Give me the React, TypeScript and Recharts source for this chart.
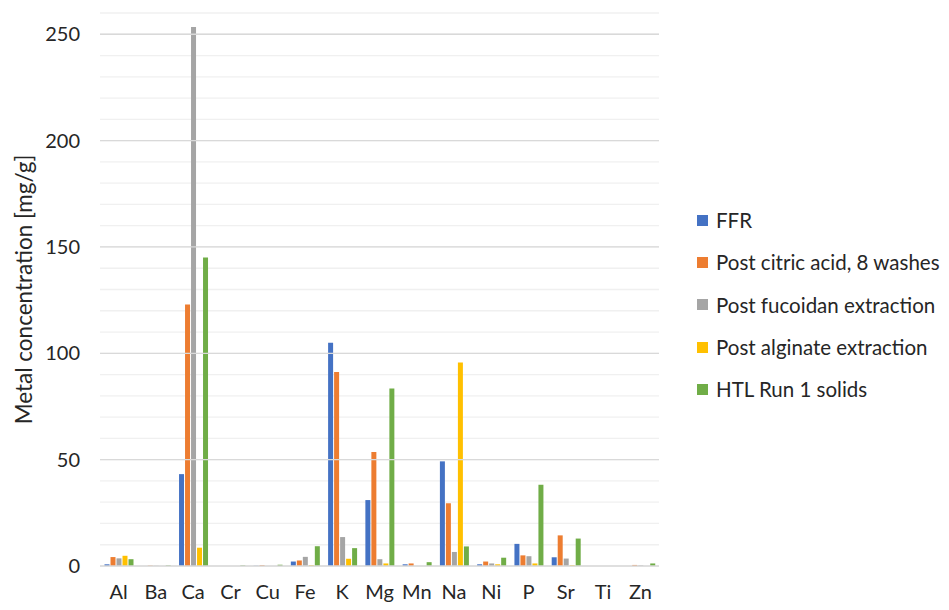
import { Bar, BarChart, CartesianGrid, ReferenceLine, XAxis, YAxis } from "recharts";

const elements = ["Al", "Ba", "Ca", "Cr", "Cu", "Fe", "K", "Mg", "Mn", "Na", "Ni", "P", "Sr", "Ti", "Zn"];

const ffr = [0.8, 0, 43.2, 0, 0.1, 2.1, 105, 31, 0.8, 49.2, 0.8, 10.4, 4.1, 0, 0];
const citric = [4.2, 0.2, 123, 0, 0.4, 2.6, 91.2, 53.6, 1.2, 29.5, 2.1, 5, 14.4, 0, 0.5];
const fucoidan = [3.6, 0.1, 253.4, 0, 0, 4.3, 13.6, 3.2, 0, 6.6, 1.2, 4.6, 3.5, 0, 0.3];
const alginate = [4.8, 0, 8.6, 0, 0, 0.4, 3.4, 1.2, 0, 95.7, 0.8, 1.2, 0.4, 0, 0];
const htl = [3.2, 0.3, 145, 0.3, 0.6, 9.3, 8.4, 83.5, 1.8, 9.2, 3.9, 38.2, 12.9, 0, 1.2];

const seriesNames = [
	"FFR",
	"Post citric acid, 8 washes",
	"Post fucoidan extraction",
	"Post alginate extraction",
	"HTL Run 1 solids",
];
const colors = ["#4472C4", "#ED7D31", "#A5A5A5", "#FFC000", "#70AD47"];

const yTicks = [0, 10, 20, 30, 40, 50, 60, 70, 80, 90, 100, 110, 120, 130, 140, 150, 160, 170, 180, 190, 200, 210, 220, 230, 240, 250, 260];
const majorTicks = [50, 100, 150, 200, 250];

const data = elements.map((name, i) => ({
	name,
	s0: ffr[i],
	s1: citric[i],
	s2: fucoidan[i],
	s3: alginate[i],
	s4: htl[i],
}));

const font = "Lato, 'Open Sans', sans-serif";

function LegendBox() {
	return (
		<div
			style={{
				position: "absolute",
				left: 697,
				top: 199,
				fontFamily: font,
				fontSize: 20.5,
				color: "#262626",
			}}
		>
			{seriesNames.map((s, i) => (
				<div
					key={s}
					style={{ display: "flex", alignItems: "center", height: 42.3, whiteSpace: "nowrap" }}
				>
					<span
						style={{ width: 11, height: 11, background: colors[i], marginRight: 8, display: "inline-block" }}
					/>
					{s}
				</div>
			))}
		</div>
	);
}

export default function App() {
	return (
		<div style={{ margin: -8, background: "#fff", width: 949, height: 610, position: "relative" }}>
			<BarChart
				width={949}
				height={610}
				data={data}
				margin={{ top: 13, right: 290, bottom: 0, left: 0 }}
				barCategoryGap={4.5}
				barGap={1}
			>
				<CartesianGrid vertical={false} stroke="#f0f0f0" strokeWidth={1.3} />
				{majorTicks.map((t) => (
					<ReferenceLine key={t} y={t} stroke="#d9d9d9" strokeWidth={1.3} />
				))}
				<XAxis
					dataKey="name"
					height={44}
					tickLine={false}
					axisLine={{ stroke: "#d9d9d9", strokeWidth: 1.3 }}
					tickMargin={13}
					tick={{ fill: "#262626", fontSize: 20, fontFamily: font }}
					interval={0}
				/>
				<YAxis
					width={100}
					domain={[0, 260]}
					ticks={yTicks}
					interval={0}
					tickFormatter={(v: number) => (v % 50 === 0 ? String(v) : "")}
					axisLine={false}
					tickLine={false}
					tickMargin={14}
					tick={{ fill: "#262626", fontSize: 20, fontFamily: font }}
					label={{
						value: "Metal concentration [mg/g]",
						angle: -90,
						position: "center",
						dx: -26,
						style: { fill: "#262626", fontSize: 22.5, fontFamily: font },
					}}
				/>
				{colors.map((c, i) => (
					<Bar key={i} dataKey={`s${i}`} name={seriesNames[i]} fill={c} isAnimationActive={false} />
				))}
			</BarChart>
			<LegendBox />
		</div>
	);
}
